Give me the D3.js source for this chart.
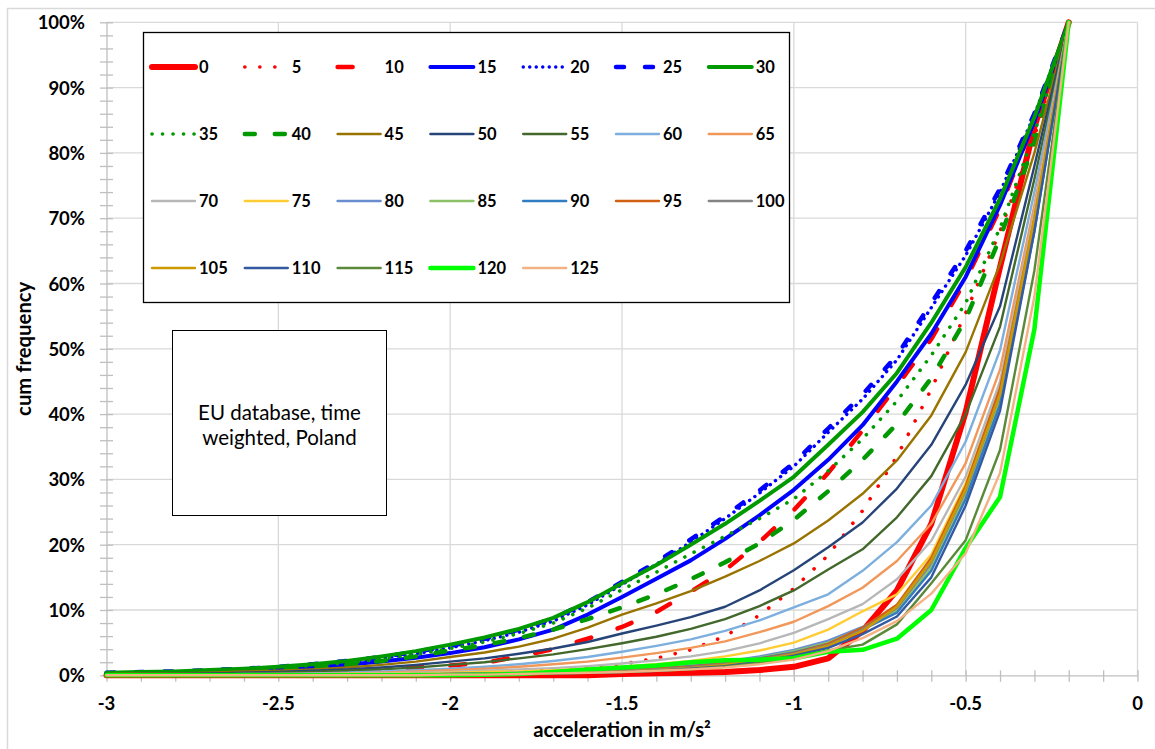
<!DOCTYPE html>
<html>
<head>
<meta charset="utf-8">
<script src="https://cdn.jsdelivr.net/npm/d3@7"></script>
<style>
  html, body { margin: 0; padding: 0; background: #ffffff; }
  svg { display: block; font-family: Lato, "Open Sans", sans-serif; }
</style>
</head>
<body>
<svg id="chart" width="1155" height="749"></svg>
<script>
// acceleration classes (m/s²)
const accel = [-3.0, -2.9, -2.8, -2.7, -2.6, -2.5, -2.4, -2.3, -2.2, -2.1,
               -2.0, -1.9, -1.8, -1.7, -1.6, -1.5, -1.4, -1.3, -1.2, -1.1,
               -1.0, -0.9, -0.8, -0.7, -0.6, -0.5, -0.4, -0.3, -0.2];

// cumulative frequency (%) per speed class
const freq0   = [0,0,0,0,0,0,0,0,0,0, 0,0,0,0,0,0.2,0.3,0.4,0.5,0.8, 1.3,2.6,6.8,13.0,23.2,40.3,62.5,84.0,100];
const freq5   = [0,0,0,0.1,0.1,0.1,0.1,0.2,0.2,0.3, 0.4,0.5,0.6,0.9,1.2,1.7,2.6,3.9,6.0,9.2, 13.3,18.4,25.2,33.5,43.8,55.5,68.0,82.5,100];
const freq10  = [0.1,0.1,0.2,0.2,0.3,0.4,0.5,0.7,0.9,1.2, 1.5,1.9,2.9,4.0,5.6,7.4,9.7,12.8,16.1,20.4, 25.3,31.0,37.5,44.3,51.5,60.5,71.5,85.0,100];
const freq15  = [0.2,0.3,0.4,0.5,0.7,0.9,1.2,1.6,2.1,2.7, 3.4,4.3,5.5,7.0,9.3,12.0,14.8,17.6,20.9,24.5, 28.4,33.0,38.3,45.0,52.3,61.0,72.0,84.8,100];
const freq20  = [0.3,0.4,0.5,0.7,0.9,1.2,1.5,2.0,2.6,3.3, 4.2,5.3,6.6,8.3,10.8,13.9,17.0,20.4,24.0,27.9, 32.0,37.2,42.3,48.3,56.3,64.3,74.0,85.8,100];
const freq25  = [0.4,0.5,0.6,0.8,1.0,1.3,1.7,2.2,2.8,3.6, 4.5,5.6,7.0,8.7,11.2,14.3,17.3,20.8,24.4,28.3, 32.5,37.8,43.0,49.0,57.0,65.0,74.5,86.0,100];
const freq30  = [0.4,0.5,0.6,0.8,1.0,1.3,1.7,2.2,2.9,3.7, 4.7,5.8,7.1,8.8,11.2,14.1,16.9,20.0,23.2,26.7, 30.4,35.3,40.3,46.3,54.0,62.5,73.0,85.5,100];
const freq35  = [0.3,0.4,0.5,0.7,0.9,1.1,1.5,1.9,2.5,3.2, 4.1,5.1,6.4,8.0,10.3,13.1,15.8,18.6,21.3,24.0, 27.0,31.3,36.2,42.0,49.0,57.0,68.5,83.0,100];
const freq40  = [0.2,0.3,0.4,0.5,0.7,0.9,1.2,1.6,2.2,2.9, 3.8,4.6,5.7,7.0,8.6,10.4,12.4,14.7,17.3,20.2, 23.8,28.2,33.0,38.5,45.5,54.5,67.0,81.5,100];
const freq45  = [0.2,0.3,0.3,0.4,0.6,0.7,0.9,1.2,1.6,2.1, 2.8,3.5,4.4,5.6,7.3,9.3,11.0,12.9,15.1,17.5, 20.2,23.7,27.8,32.9,39.8,49.5,63.0,80.0,100];
const freq50  = [0.1,0.2,0.2,0.3,0.4,0.5,0.7,0.9,1.2,1.6, 2.1,2.6,3.3,4.1,5.1,6.4,7.6,8.9,10.5,13.0, 16.1,19.6,23.4,28.6,35.3,44.5,56.5,78.0,100];
const freq55  = [0.1,0.1,0.2,0.2,0.3,0.4,0.5,0.7,0.9,1.2, 1.6,2.0,2.6,3.2,4.0,4.9,5.9,7.1,8.6,10.6, 13.0,16.2,19.3,24.2,30.5,40.0,53.4,76.0,100];
const freq60  = [0,0.1,0.1,0.1,0.2,0.2,0.3,0.4,0.6,0.8, 1.0,1.3,1.7,2.2,2.8,3.6,4.5,5.5,6.8,8.4, 10.4,12.4,16.0,20.4,26.0,35.8,49.8,74.0,100];
const freq65  = [0,0,0.1,0.1,0.1,0.2,0.2,0.3,0.4,0.6, 0.8,1.0,1.3,1.7,2.1,2.7,3.4,4.2,5.2,6.6, 8.2,10.6,13.4,17.5,23.2,32.5,46.8,72.0,100];
const freq70  = [0,0,0,0.1,0.1,0.1,0.2,0.2,0.3,0.4, 0.5,0.7,0.9,1.1,1.4,1.8,2.3,2.9,3.7,4.9, 6.5,8.6,10.9,14.7,20.6,30.4,45.0,71.0,100];
const freq75  = [0,0,0,0,0.1,0.1,0.1,0.2,0.2,0.3, 0.4,0.5,0.6,0.8,1.0,1.3,1.7,2.2,2.9,3.8, 5.0,7.0,9.8,12.4,18.5,29.4,43.7,70.0,100];
const freq80  = [0,0,0,0,0,0,0.1,0.1,0.1,0.2, 0.2,0.3,0.4,0.5,0.7,0.9,1.2,1.6,2.1,2.9, 3.9,5.3,7.4,10.3,17.0,28.0,42.5,69.0,100];
const freq85  = [0,0,0,0,0,0,0.1,0.1,0.1,0.2, 0.2,0.3,0.4,0.5,0.7,0.9,1.1,1.5,2.0,2.7, 3.7,5.0,7.2,10.0,16.5,27.5,42.0,68.5,100];
const freq90  = [0,0,0,0,0,0,0,0.1,0.1,0.1, 0.2,0.3,0.3,0.4,0.6,0.8,1.0,1.4,1.9,2.6, 3.5,4.8,7.0,9.6,16.0,27.0,41.5,68.0,100];
const freq95  = [0,0,0,0,0,0,0,0.1,0.1,0.1, 0.2,0.2,0.3,0.4,0.5,0.7,1.0,1.3,1.8,2.5, 3.4,4.8,7.3,10.8,18.0,29.0,44.0,70.0,100];
const freq100 = [0,0,0,0,0,0,0,0,0.1,0.1, 0.1,0.2,0.3,0.4,0.5,0.7,0.9,1.2,1.7,2.4, 3.3,4.6,7.0,10.3,17.3,28.3,43.0,69.5,100];
const freq105 = [0,0,0,0,0,0,0,0,0.1,0.1, 0.1,0.2,0.2,0.3,0.4,0.6,0.8,1.1,1.6,2.3, 3.2,4.5,6.8,10.5,17.5,28.5,43.0,70.0,100];
const freq110 = [0,0,0,0,0,0,0,0,0,0.1, 0.1,0.1,0.2,0.3,0.4,0.5,0.7,1.0,1.4,2.1, 3.0,4.2,6.3,9.0,15.0,26.0,40.5,68.0,100];
const freq115 = [0,0,0,0,0,0,0,0,0,0.1, 0.1,0.1,0.2,0.3,0.4,0.5,0.7,0.9,1.3,1.9, 2.8,3.8,4.7,7.8,14.1,20.7,34.5,62.0,100];
const freq120 = [0,0,0,0,0,0,0,0,0,0, 0,0.1,0.2,0.5,0.9,1.2,1.5,2.0,2.3,2.4, 2.6,3.6,3.9,5.6,10.0,19.5,27.3,53.0,100];
const freq125 = [0,0,0,0,0,0,0,0,0,0, 0.1,0.1,0.2,0.3,0.4,0.5,0.7,0.9,1.2,1.7, 2.4,3.7,5.7,8.3,12.5,18.7,31.0,58.0,100];

const seriesNames = ["0","5","10","15","20","25","30","35","40","45","50","55","60","65",
                     "70","75","80","85","90","95","100","105","110","115","120","125"];
const seriesValues = [freq0, freq5, freq10, freq15, freq20, freq25, freq30, freq35, freq40,
                      freq45, freq50, freq55, freq60, freq65, freq70, freq75, freq80, freq85,
                      freq90, freq95, freq100, freq105, freq110, freq115, freq120, freq125];

const xTicks = [-3, -2.5, -2, -1.5, -1, -0.5, 0];
const yTicks = [0, 10, 20, 30, 40, 50, 60, 70, 80, 90, 100];
const noteLines = ["EU database, time", "weighted, Poland"];

// line styles: colour, width, dash pattern (round caps)
const RED = "#ff0000", BLUE = "#0000ff", GREEN = "#009a00";
const THIN = 2.4;
const styles = {
  "0":   {c: RED,   w: 6},
  "5":   {c: RED,   w: 3.6, d: "0.1 14.9"},
  "10":  {c: RED,   w: 4.5, d: "15 28"},
  "15":  {c: BLUE,  w: 4},
  "20":  {c: BLUE,  w: 3.4, d: "0.1 6.4"},
  "25":  {c: BLUE,  w: 4.5, d: "8 21"},
  "30":  {c: GREEN, w: 4},
  "35":  {c: GREEN, w: 3.6, d: "0.1 10.4"},
  "40":  {c: GREEN, w: 4.5, d: "10 20"},
  "45":  {c: "#997300", w: THIN},
  "50":  {c: "#264478", w: THIN},
  "55":  {c: "#43682b", w: THIN},
  "60":  {c: "#7cafdd", w: THIN},
  "65":  {c: "#f1975a", w: THIN},
  "70":  {c: "#b7b7b7", w: THIN},
  "75":  {c: "#ffcd33", w: THIN},
  "80":  {c: "#698ed0", w: THIN},
  "85":  {c: "#8cc168", w: THIN},
  "90":  {c: "#327dc2", w: THIN},
  "95":  {c: "#d26012", w: THIN},
  "100": {c: "#848484", w: THIN},
  "105": {c: "#cc9a00", w: THIN},
  "110": {c: "#335aa1", w: THIN},
  "115": {c: "#5a8a39", w: THIN},
  "120": {c: "#00ff00", w: 4.5},
  "125": {c: "#f4b183", w: THIN}
};

const svg = d3.select("#chart");
const plot = {left: 106.5, right: 1137.5, top: 22.3, bottom: 675.3};

const x = d3.scaleLinear().domain([-3, 0]).range([plot.left, plot.right]);
const y = d3.scaleLinear().domain([0, 100]).range([plot.bottom, plot.top]);

// outer chart frame
svg.append("rect")
  .attr("x", 7.5).attr("y", 8.5).attr("width", 1160).attr("height", 760)
  .attr("fill", "none").attr("stroke", "#d9d9d9").attr("stroke-width", 1.5);

// gridlines
const grid = svg.append("g").attr("stroke", "#d9d9d9").attr("stroke-width", 1.3);
grid.selectAll("line.h").data(yTicks.filter(v => v > 0)).join("line")
  .attr("x1", plot.left).attr("x2", plot.right)
  .attr("y1", d => y(d)).attr("y2", d => y(d));
grid.selectAll("line.v").data(xTicks.filter(v => v > -3)).join("line")
  .attr("y1", plot.top).attr("y2", plot.bottom)
  .attr("x1", d => x(d)).attr("x2", d => x(d));

// y axis: major ticks every 10 %, minor every 2 %
const yAxis = d3.axisLeft(y)
  .tickValues(d3.range(0, 101, 2))
  .tickSize(0)
  .tickFormat("");
const yAxisG = svg.append("g").attr("transform", `translate(${plot.left},0)`).call(yAxis);
yAxisG.select(".domain").attr("stroke", "#bfbfbf").attr("stroke-width", 1.3);
yAxisG.selectAll(".tick line").attr("x1", -6.5).attr("x2", 6.5)
  .attr("stroke", "#bfbfbf").attr("stroke-width", 1.3);

// x axis: labels every 0.5, minor ticks every 0.1
const xAxis = d3.axisBottom(x)
  .tickValues(d3.range(-30, 1).map(i => i / 10))
  .tickSize(0)
  .tickFormat("");
const xAxisG = svg.append("g").attr("transform", `translate(0,${plot.bottom})`).call(xAxis);
xAxisG.select(".domain").attr("stroke", "#bfbfbf").attr("stroke-width", 1.3);
xAxisG.selectAll(".tick line").attr("y1", -5).attr("y2", 6.5)
  .attr("stroke", "#bfbfbf").attr("stroke-width", 1.3);

// tick labels
svg.append("g").selectAll("text").data(yTicks).join("text")
  .attr("x", 85).attr("y", d => y(d) + 7)
  .attr("text-anchor", "end")
  .attr("font-size", 18.5).attr("font-weight", 700).attr("fill", "#000")
  .text(d => d + "%");
svg.append("g").selectAll("text").data(xTicks).join("text")
  .attr("x", d => x(d)).attr("y", 710)
  .attr("text-anchor", "middle")
  .attr("font-size", 18.5).attr("font-weight", 700).attr("fill", "#000")
  .text(d => d3.format("")(d).replace("−", "-"));

// axis titles
svg.append("text")
  .attr("x", (plot.left + plot.right) / 2).attr("y", 737)
  .attr("text-anchor", "middle")
  .attr("font-size", 20.3).attr("font-weight", 700)
  .text("acceleration in m/s²");
svg.append("text")
  .attr("transform", `translate(31,${(plot.top + plot.bottom) / 2}) rotate(-90)`)
  .attr("text-anchor", "middle")
  .attr("font-size", 20.3).attr("font-weight", 700)
  .text("cum frequency");

// series lines
const line = d3.line()
  .x((d, i) => x(accel[i]))
  .y(d => y(d));

svg.append("g").selectAll("path").data(seriesNames).join("path")
  .attr("d", (name, i) => line(seriesValues[i]))
  .attr("fill", "none")
  .attr("stroke", name => styles[name].c)
  .attr("stroke-width", name => styles[name].w)
  .attr("stroke-dasharray", name => styles[name].d || null)
  .attr("stroke-linecap", "round")
  .attr("stroke-linejoin", "round");

// legend
const legend = svg.append("g");
legend.append("rect")
  .attr("x", 143.5).attr("y", 32.5).attr("width", 646).attr("height", 270)
  .attr("fill", "#fff").attr("stroke", "#000").attr("stroke-width", 1.3);
const entries = legend.selectAll("g").data(seriesNames).join("g")
  .attr("transform", (d, i) => `translate(${152 + (i % 7) * 92.8},${67 + Math.floor(i / 7) * 67})`);
entries.append("line")
  .attr("x1", 0).attr("x2", 43).attr("y1", 0).attr("y2", 0)
  .attr("stroke", d => styles[d].c)
  .attr("stroke-width", d => styles[d].w)
  .attr("stroke-dasharray", d => styles[d].d || null)
  .attr("stroke-linecap", "round");
entries.append("text")
  .attr("x", 47).attr("y", 6)
  .attr("font-size", 16.5).attr("font-weight", 700)
  .text(d => d);

// note box
const note = svg.append("g");
note.append("rect")
  .attr("x", 172.5).attr("y", 330.5).attr("width", 214).attr("height", 185)
  .attr("fill", "#fff").attr("stroke", "#000").attr("stroke-width", 1);
note.selectAll("text").data(noteLines).join("text")
  .attr("x", 279.5).attr("y", (d, i) => 420 + i * 25)
  .attr("text-anchor", "middle")
  .attr("font-size", 20.5)
  .text(d => d);
</script>
</body>
</html>
